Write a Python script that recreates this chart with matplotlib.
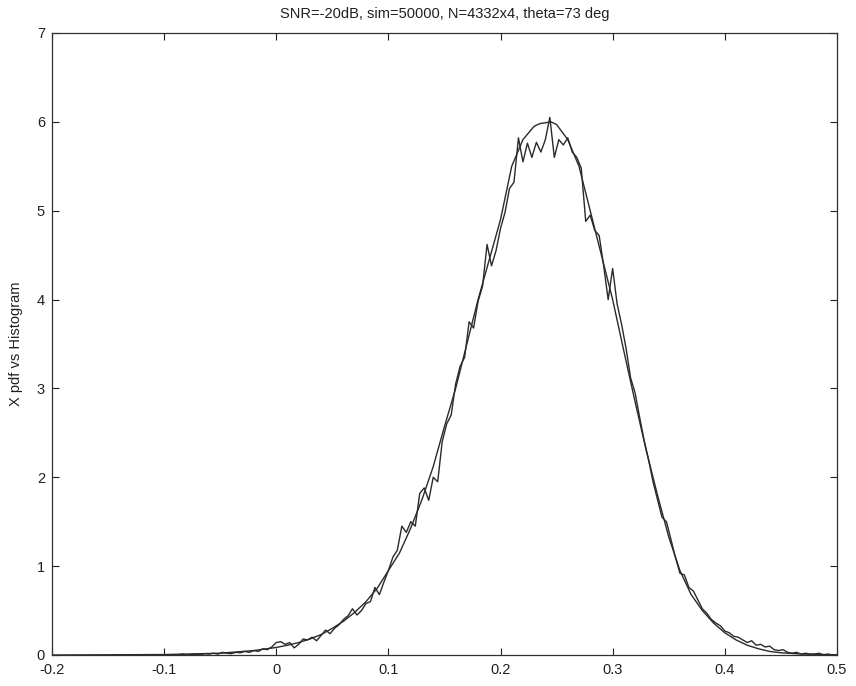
import numpy as np
import matplotlib
matplotlib.use('Agg')
import matplotlib.pyplot as plt

plt.rcParams['font.family'] = ['Liberation Sans', 'DejaVu Sans']

# smooth pdf curve
pdf_x = [-0.2, -0.1, -0.05, -0.02, 0.0, 0.01, 0.02, 0.03, 0.04, 0.05,
         0.06, 0.07, 0.08, 0.09, 0.10, 0.11, 0.12, 0.13, 0.14, 0.15,
         0.16, 0.17, 0.18, 0.19, 0.20, 0.21, 0.22, 0.23, 0.235, 0.24,
         0.245, 0.25, 0.26, 0.27, 0.28, 0.29, 0.30, 0.31, 0.32, 0.33,
         0.34, 0.35, 0.36, 0.37, 0.38, 0.39, 0.40, 0.41, 0.42, 0.43,
         0.44, 0.45, 0.47, 0.5]
pdf_y = [0.0, 0.005, 0.02, 0.05, 0.085, 0.11, 0.14, 0.18, 0.23, 0.3,
         0.38, 0.48, 0.6, 0.75, 0.95, 1.15, 1.43, 1.75, 2.12, 2.57,
         3.0, 3.5, 4.0, 4.45, 4.9, 5.5, 5.8, 5.95, 5.98, 5.99,
         6.0, 5.97, 5.8, 5.5, 5.0, 4.5, 4.0, 3.42, 2.85, 2.3,
         1.8, 1.33, 0.95, 0.68, 0.5, 0.36, 0.25, 0.17, 0.11, 0.07,
         0.04, 0.025, 0.01, 0.003]

# histogram, bins of 0.004 from -0.1 to 0.5
hist_x = np.linspace(-0.1, 0.5, 151)
hist_y = [0.0, 0.0, 0.005, 0.0, 0.01, 0.0, 0.005, 0.01, 0.0, 0.015,
          0.01, 0.02, 0.01, 0.03, 0.02, 0.015, 0.03, 0.025, 0.04, 0.03,
          0.05, 0.04, 0.07, 0.06, 0.09, 0.14, 0.15, 0.12, 0.14, 0.08,
          0.12, 0.18, 0.17, 0.2, 0.16, 0.22, 0.28, 0.24, 0.3, 0.34,
          0.4, 0.44, 0.52, 0.45, 0.5, 0.58, 0.6, 0.76, 0.68, 0.82,
          0.95, 1.1, 1.18, 1.45, 1.38, 1.5, 1.45, 1.82, 1.88, 1.74,
          2.0, 1.95, 2.4, 2.6, 2.7, 3.05, 3.25, 3.35, 3.75, 3.68,
          3.98, 4.15, 4.62, 4.38, 4.55, 4.8, 4.98, 5.25, 5.32, 5.82,
          5.55, 5.76, 5.6, 5.77, 5.66, 5.8, 6.05, 5.6, 5.8, 5.74,
          5.82, 5.66, 5.6, 5.48, 4.88, 4.95, 4.78, 4.72, 4.38, 4.0,
          4.35, 3.95, 3.72, 3.45, 3.12, 2.95, 2.68, 2.42, 2.2, 1.95,
          1.75, 1.55, 1.5, 1.3, 1.1, 0.92, 0.9, 0.76, 0.72, 0.62,
          0.52, 0.47, 0.4, 0.36, 0.33, 0.27, 0.25, 0.21, 0.2, 0.17,
          0.14, 0.16, 0.11, 0.12, 0.09, 0.1, 0.06, 0.05, 0.06, 0.03,
          0.02, 0.03, 0.01, 0.02, 0.01, 0.01, 0.02, 0.0, 0.01, 0.0,
          0.0]

xticks = [-0.2, -0.1, 0, 0.1, 0.2, 0.3, 0.4, 0.5]
xtick_labels = ['-0.2', '-0.1', '0', '0.1', '0.2', '0.3', '0.4', '0.5']
yticks = [0, 1, 2, 3, 4, 5, 6, 7]

fig = plt.figure(figsize=(8.56, 6.86), dpi=100)
ax = fig.add_axes([0.0607, 0.0452, 0.917, 0.9067])

ax.plot(pdf_x, pdf_y, color='#2a2a2a', linewidth=1.0)
ax.plot(hist_x, hist_y, color='#2a2a2a', linewidth=1.0)

ax.set_xlim(-0.2, 0.5)
ax.set_ylim(0, 7)
ax.set_xticks(xticks)
ax.set_xticklabels(xtick_labels)
ax.set_yticks(yticks)
ax.tick_params(direction='in', length=5, width=0.8, top=True, right=True,
               labelsize=10.5, colors='#202020')
ax.tick_params(axis='x', pad=6)
ax.tick_params(axis='y', pad=5)
for s in ax.spines.values():
    s.set_linewidth(0.9)
    s.set_color('#303030')

ax.set_title('SNR=-20dB, sim=50000, N=4332x4, theta=73 deg', fontsize=10.5,
             color='#202020', pad=11)
ax.set_ylabel('X pdf vs Histogram', fontsize=10.5, color='#202020', labelpad=10)

fig.savefig('out.png', dpi=100)
